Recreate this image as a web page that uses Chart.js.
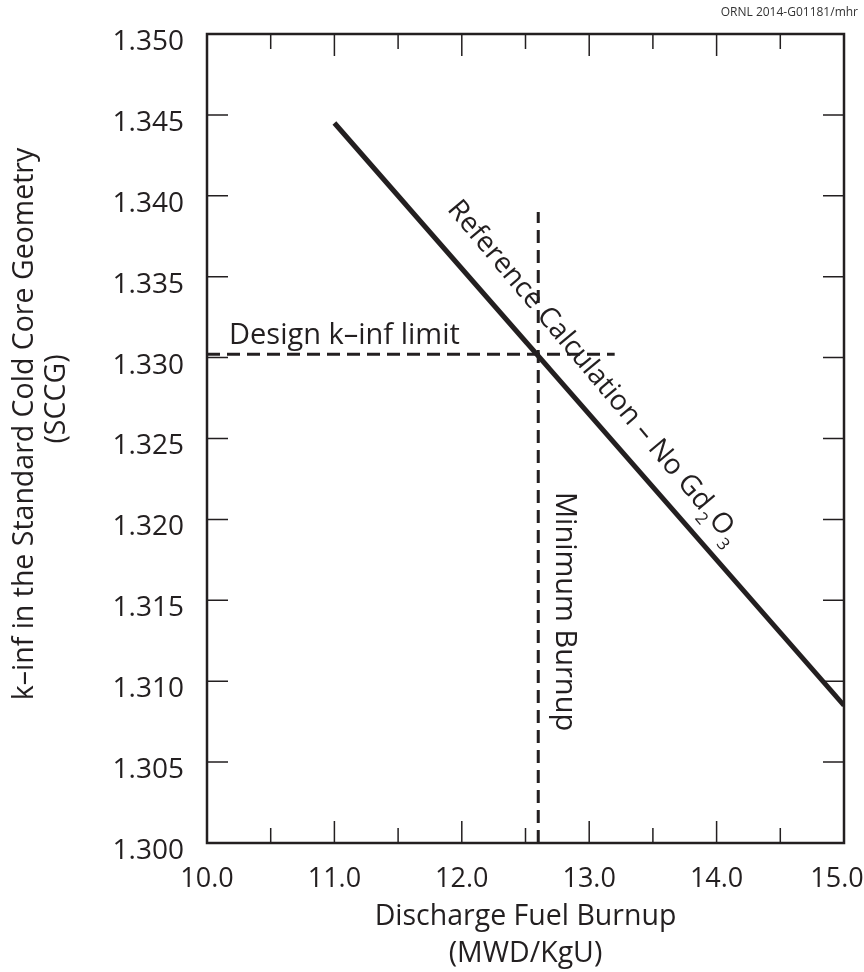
<!DOCTYPE html>
<html><head><meta charset="utf-8">
<script src="https://cdn.jsdelivr.net/npm/chart.js@4/dist/chart.umd.min.js"></script>
<style>html,body{margin:0;padding:0;background:#fff}#wrap{width:864px;height:972px}</style>
</head><body><div id="wrap"><canvas id="c" width="864" height="972"></canvas></div>
<script>
// ---- data ----
const xMajorTicks = [10.0, 11.0, 12.0, 13.0, 14.0, 15.0];
const xMinorTicks = [10.5, 11.5, 12.5, 13.5, 14.5];
const yTickValues = [1.300, 1.305, 1.310, 1.315, 1.320, 1.325, 1.330, 1.335, 1.340, 1.345, 1.350];
const refX = [11.0, 15.0];
const refY = [1.3445, 1.3085];
const limitX = [10.0, 13.2];
const limitY = [1.3302, 1.3302];
const minBurnupX = [12.6, 12.6];
const minBurnupY = [1.300, 1.339];
const xTitle = ['Discharge Fuel Burnup', '(MWD/KgU)'];
const yTitle = ['k\u2013inf in the Standard Cold Core Geometry', '(SCCG)'];
const refLabel = ['Reference Calculation \u2013 No Gd', '2', 'O', '3'];
const limitLabel = 'Design k\u2013inf limit';
const minLabel = 'Minimum Burnup';
const creditText = 'ORNL 2014-G01181/mhr';

const INK = '#231f20';
const FONT = "'Open Sans', sans-serif";

function pts(xs, ys){ return xs.map((x,i)=>({x:x, y:ys[i]})); }

const overlay = {
  id: 'overlay',
  beforeDraw(chart){
    // keep the last x tick label inside the canvas, as in the reference
    const items = chart.scales.x.getLabelItems();
    const last = items[items.length-1];
    if (last && !last._shifted) { last.options.translation[0] -= 7; last._shifted = true; }
  },
  afterDatasetsDraw(chart){
    const {ctx, chartArea:a, scales:{x, y}} = chart;
    ctx.save();
    // ticks (inward)
    ctx.strokeStyle = INK; ctx.lineWidth = 1.5;
    ctx.beginPath();
    xMajorTicks.forEach(v=>{ const p = x.getPixelForValue(v);
      ctx.moveTo(p, a.bottom); ctx.lineTo(p, a.bottom-22);
      ctx.moveTo(p, a.top); ctx.lineTo(p, a.top+22); });
    xMinorTicks.forEach(v=>{ const p = x.getPixelForValue(v);
      ctx.moveTo(p, a.bottom); ctx.lineTo(p, a.bottom-15);
      ctx.moveTo(p, a.top); ctx.lineTo(p, a.top+15); });
    yTickValues.forEach(v=>{ const p = y.getPixelForValue(v);
      ctx.moveTo(a.left, p); ctx.lineTo(a.left+21, p);
      ctx.moveTo(a.right, p); ctx.lineTo(a.right-21, p); });
    ctx.stroke();
    // frame
    ctx.lineWidth = 2.5;
    ctx.strokeRect(a.left, a.top, a.right-a.left, a.bottom-a.top);

    ctx.fillStyle = INK;
    // y-axis title (two lines, rotated)
    ctx.font = '28.5px ' + FONT;
    ctx.textAlign = 'center'; ctx.textBaseline = 'middle';
    ctx.save(); ctx.translate(25, 424); ctx.rotate(-Math.PI/2); ctx.fillText(yTitle[0], 0, 0); ctx.restore();
    ctx.save(); ctx.translate(57, 399); ctx.rotate(-Math.PI/2); ctx.fillText(yTitle[1], 0, 0); ctx.restore();

    // design limit label
    ctx.font = '29px ' + FONT;
    ctx.textAlign = 'left'; ctx.textBaseline = 'alphabetic';
    ctx.fillText(limitLabel, x.getPixelForValue(10.0) + 22, y.getPixelForValue(limitY[0]) - 10);

    // minimum burnup label (rotated 90deg)
    ctx.save();
    ctx.translate(x.getPixelForValue(minBurnupX[0]) + 18, y.getPixelForValue(minBurnupY[1]) + 280);
    ctx.rotate(Math.PI/2);
    ctx.fillText(minLabel, 0, 0);
    ctx.restore();

    // reference calculation label along the line
    const x0 = x.getPixelForValue(refX[0]), y0 = y.getPixelForValue(refY[0]);
    const x1 = x.getPixelForValue(refX[1]), y1 = y.getPixelForValue(refY[1]);
    const ang = Math.atan2(y1-y0, x1-x0) + 0.02;
    const t = (12.6 - refX[0])/(refX[1]-refX[0]);
    const ax = x0 + t*(x1-x0), ay = y0 + t*(y1-y0);
    ctx.save();
    ctx.translate(ax, ay);
    ctx.rotate(ang);
    let cx = -171;
    const by = -24;
    ctx.font = '28px ' + FONT;
    ctx.fillText(refLabel[0], cx, by); cx += ctx.measureText(refLabel[0]).width + 1;
    ctx.font = '17px ' + FONT;
    ctx.fillText(refLabel[1], cx, by + 9); cx += ctx.measureText(refLabel[1]).width + 1;
    ctx.font = '28px ' + FONT;
    ctx.fillText(refLabel[2], cx, by); cx += ctx.measureText(refLabel[2]).width + 1;
    ctx.font = '17px ' + FONT;
    ctx.fillText(refLabel[3], cx, by + 9);
    ctx.restore();

    // credit
    ctx.font = '12px ' + FONT;
    ctx.fillStyle = '#333';
    ctx.textAlign = 'right'; ctx.textBaseline = 'middle';
    ctx.fillText(creditText, 858, 13);
    ctx.restore();
  }
};

new Chart(document.getElementById('c'), {
  type: 'scatter',
  data: { datasets: [
    { data: pts(refX, refY), showLine: true, borderColor: INK, borderWidth: 5, pointRadius: 0, borderCapStyle: 'butt' },
    { data: pts(limitX, limitY), showLine: true, borderColor: INK, borderWidth: 3, borderDash: [13, 7], pointRadius: 0 },
    { data: pts(minBurnupX, minBurnupY), showLine: true, borderColor: INK, borderWidth: 3, borderDash: [13, 7], pointRadius: 0 }
  ]},
  options: {
    responsive: false, devicePixelRatio: 1, animation: false,
    layout: { padding: { top: 34, right: 20, left: 0, bottom: 0 } },
    plugins: { legend: { display: false }, tooltip: { enabled: false } },
    scales: {
      x: {
        type: 'linear', position: 'bottom', min: 10, max: 15,
        afterBuildTicks: s => { s.ticks = xMajorTicks.map(v => ({ value: v })); },
        afterFit: s => { s.height = 129; s.paddingLeft = 0; s.paddingRight = 0; },
        grid: { display: false }, border: { display: false },
        ticks: { color: INK, font: { family: FONT, size: 27 }, padding: 12, maxRotation: 0, autoSkip: false,
                 callback: v => Number(v).toFixed(1) },
        title: { display: true, text: xTitle, color: INK, font: { family: FONT, size: 28.5, lineHeight: 1.3 }, padding: { top: 0, bottom: 0 } }
      },
      y: {
        type: 'linear', position: 'left', min: 1.300, max: 1.350,
        afterBuildTicks: s => { s.ticks = yTickValues.map(v => ({ value: v })); },
        afterFit: s => { s.width = 207; s.paddingTop = 0; s.paddingBottom = 0; },
        grid: { display: false }, border: { display: false },
        ticks: { color: INK, font: { family: FONT, size: 28 }, padding: 15, labelOffset: 8, autoSkip: false,
                 callback: v => Number(v).toFixed(3) },
        title: { display: false }
      }
    }
  },
  plugins: [overlay]
});
</script></body></html>
